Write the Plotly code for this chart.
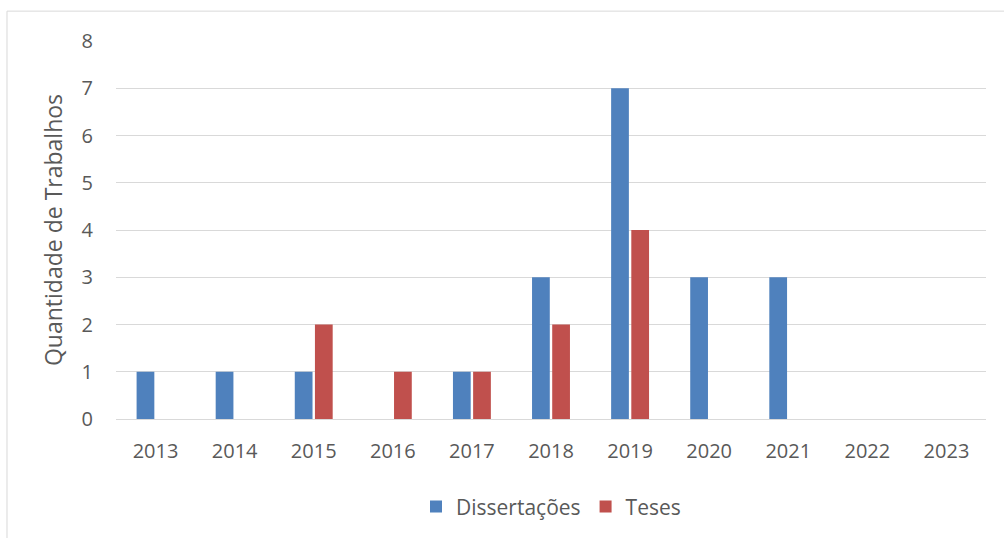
import plotly.graph_objects as go

years = ["2013", "2014", "2015", "2016", "2017", "2018", "2019", "2020", "2021", "2022", "2023"]
dissertacoes = [1, 1, 1, 0, 1, 3, 7, 3, 3, 0, 0]
teses = [0, 0, 2, 1, 1, 2, 4, 0, 0, 0, 0]

font_family = "'Open Sans', sans-serif"
text_color = "#595959"

fig = go.Figure()
fig.add_trace(go.Bar(x=years, y=dissertacoes, name="Dissertações", marker_color="#4F81BD",
                     marker_line_width=0))
fig.add_trace(go.Bar(x=years, y=teses, name="Teses", marker_color="#C0504D",
                     marker_line_width=0))

fig.update_layout(
    width=1004, height=538,
    margin=dict(l=116, r=18, t=41, b=118),
    plot_bgcolor="white", paper_bgcolor="white",
    barmode="group", bargap=0.49, bargroupgap=0.12,
    font=dict(family=font_family, size=20, color=text_color),
    showlegend=True,
    legend=dict(orientation="h", x=0.5, xanchor="center", y=-0.175, yanchor="top",
                font=dict(size=21, color=text_color), itemwidth=30, traceorder="normal"),
    xaxis=dict(showgrid=False, showline=True, linecolor="#D9D9D9", linewidth=1,
               ticks="", ticklabelstandoff=14, tickfont=dict(size=20)),
    yaxis=dict(range=[0, 8], dtick=1, showgrid=True, gridcolor="#D9D9D9", gridwidth=1,
               zeroline=False, showline=False, ticks="", ticklabelstandoff=22,
               tickfont=dict(size=20),
               title=dict(text="Quantidade de Trabalhos", font=dict(size=23, color=text_color), standoff=12)),
    shapes=[dict(type="rect", xref="paper", yref="paper", x0=-0.1253, x1=1.2, y0=-0.6, y1=1.079,
                 line=dict(color="#D9D9D9", width=1), fillcolor="rgba(0,0,0,0)", layer="below")],
)

fig.write_html("out.html")
